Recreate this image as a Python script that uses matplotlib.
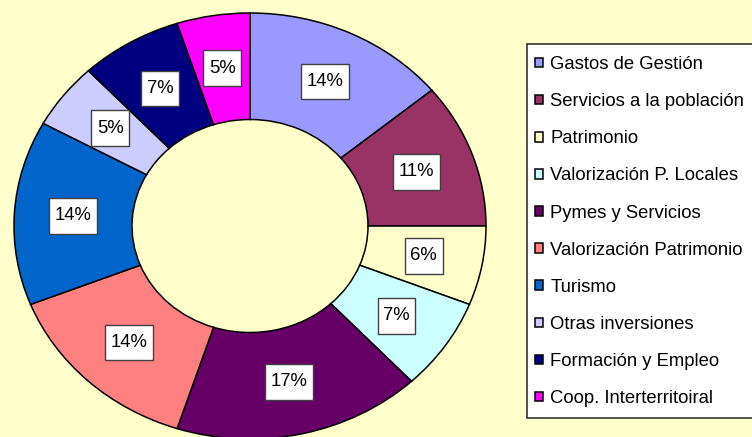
import matplotlib.pyplot as plt
from matplotlib.patches import Rectangle
from matplotlib.path import Path

plt.rcParams['font.family'] = ['Liberation Sans', 'DejaVu Sans']

categories = [
    "Gastos de Gestión",
    "Servicios a la población",
    "Patrimonio",
    "Valorización P. Locales",
    "Pymes y Servicios",
    "Valorización Patrimonio",
    "Turismo",
    "Otras inversiones",
    "Formación y Empleo",
    "Coop. Interterritoiral",
]
shares = [14, 11, 6, 7, 17, 14, 14, 5, 7, 5]
colors = ["#9999FF", "#993366", "#FFFFCC", "#CCFFFF", "#660066",
          "#FF8080", "#0066CC", "#CCCCFF", "#000080", "#FF00FF"]

bg = "#FFFFCC"
W, H = 752, 437


def label_box(x0, y0, width, height, mutation_size):
    # plain rectangle, more padding top/bottom than left/right
    px = 0.3 * mutation_size
    py = 0.5 * mutation_size
    x0, y0 = x0 - px, y0 - py
    x1, y1 = x0 + width + 2 * px, y0 + height + 2 * py
    return Path([(x0, y0), (x1, y0), (x1, y1), (x0, y1), (x0, y0)],
                closed=True)


fig = plt.figure(figsize=(W / 100, H / 100), dpi=100, facecolor=bg)

# the pie is stretched a bit, like the original (wider than tall)
ax = fig.add_axes([14 / W, (H - 439) / H, 472 / W, 426 / H])
ax.set_facecolor("none")

wedges, texts, autotexts = ax.pie(
    shares, colors=colors, startangle=90, counterclock=False, radius=1,
    autopct=lambda p: "{:.0f}%".format(p), pctdistance=0.75,
    wedgeprops=dict(width=0.5, edgecolor="black", linewidth=1.1),
    textprops=dict(fontsize=13.3, color="black"),
)
for t in autotexts:
    t.set_bbox(dict(boxstyle=label_box, facecolor="white",
                    edgecolor="#404040", linewidth=1))
ax.set_aspect("auto")
ax.set_xlim(-1, 1)
ax.set_ylim(-1, 1)
ax.axis("off")

# legend frame (runs off the right edge, as in the original)
fig.patches.append(Rectangle((527 / W, 1 - 418 / H), 240 / W, 374 / H,
                             transform=fig.transFigure, facecolor="white",
                             edgecolor="#333333", linewidth=1.2, zorder=0))
leg = fig.legend(wedges, categories, loc="upper left",
                 bbox_to_anchor=(535 / W, 1 - 56 / H), frameon=False,
                 fontsize=13.3, handlelength=0.43, handleheight=0.43,
                 handletextpad=0.4, labelspacing=1.09, borderpad=0,
                 borderaxespad=0)
for h in leg.legend_handles:
    h.set_edgecolor("black")
    h.set_linewidth(1.1)

fig.savefig("out.png", dpi=100, facecolor=bg)
